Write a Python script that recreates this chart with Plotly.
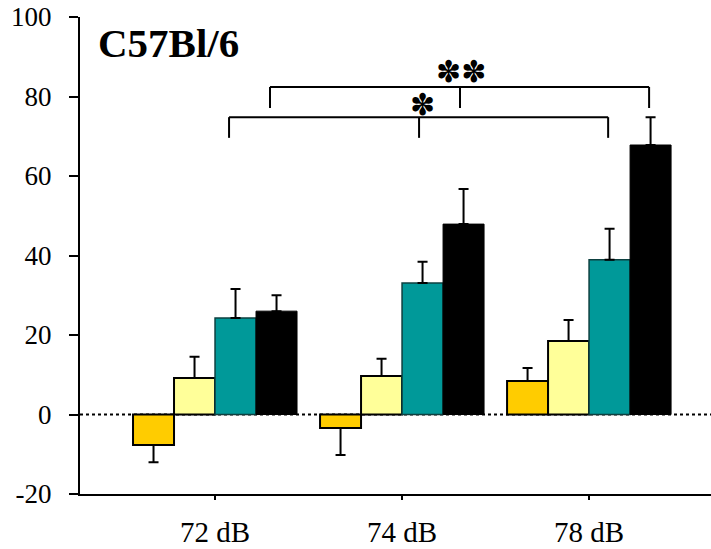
import plotly.graph_objects as go

categories = ["72 dB", "74 dB", "78 dB"]
series_names = ["Group 1", "Group 2", "Group 3", "Group 4"]
values_1 = [-7.7, -3.4, 8.4]
errors_1 = [4.3, 6.8, 3.3]
values_2 = [9.2, 9.7, 18.5]
errors_2 = [5.3, 4.3, 5.3]
values_3 = [24.3, 33.1, 38.9]
errors_3 = [7.3, 5.3, 7.8]
values_4 = [26.0, 47.9, 67.8]
errors_4 = [4.0, 8.8, 7.0]
y_tick_values = [-20, 0, 20, 40, 60, 80, 100]
y_tick_labels = ["-20", "0", "20", "40", "60", "80", "100"]

series = [
    (series_names[0], values_1, errors_1, "#FFCC00", "black", 2),
    (series_names[1], values_2, errors_2, "#FFFF99", "black", 2),
    (series_names[2], values_3, errors_3, "#009999", "#0d4040", 1.5),
    (series_names[3], values_4, errors_4, "#000000", "black", 1),
]

xpos = list(range(len(categories)))
FONT = "Liberation Serif, Times New Roman, serif"

fig = go.Figure()
for name, vals, errs, color, lcolor, lw in series:
    up = [e if v >= 0 else 0 for v, e in zip(vals, errs)]
    down = [e if v < 0 else 0 for v, e in zip(vals, errs)]
    fig.add_trace(go.Bar(
        x=xpos, y=vals, name=name,
        marker=dict(color=color, line=dict(color=lcolor, width=lw)),
        error_y=dict(type="data", symmetric=False, array=up, arrayminus=down,
                     color="black", thickness=2, width=5),
    ))

# zero dotted line
fig.add_shape(type="line", xref="paper", x0=0, x1=1, yref="y", y0=0, y1=0,
              line=dict(color="black", width=2, dash="dot"), layer="below")

# significance brackets
def bracket(xs, ytop, ybot):
    left, mid, right = xs
    fig.add_shape(type="line", x0=left, x1=right, y0=ytop, y1=ytop,
                  line=dict(color="black", width=2))
    for xx in (left, mid, right):
        fig.add_shape(type="line", x0=xx, x1=xx, y0=ytop, y1=ybot,
                      line=dict(color="black", width=2))

bracket((0.075, 1.091, 2.102), 74.8, 69.6)
bracket((0.294, 1.31, 2.321), 82.4, 77.1)

fig.add_annotation(x=1.112, y=77.9, text="\u273D", showarrow=False,
                   font=dict(family="DejaVu Sans", size=30, color="black"))
fig.add_annotation(x=1.316, y=86.2, text="\u273D\u273D", showarrow=False,
                   font=dict(family="DejaVu Sans", size=30, color="black"))

fig.add_annotation(xref="paper", x=(96 - 80) / 631, xanchor="left",
                   y=93.5, yanchor="middle", text="<b>C57Bl/6</b>",
                   showarrow=False,
                   font=dict(family=FONT, size=41, color="black"))

fig.update_layout(
    width=711, height=549,
    margin=dict(l=80, r=0, t=17, b=55),
    plot_bgcolor="white", paper_bgcolor="white",
    barmode="group", bargap=0.123, bargroupgap=0,
    showlegend=False,
    font=dict(family=FONT, color="black"),
)
fig.update_xaxes(
    range=[-0.722, 2.652], tickvals=xpos, ticktext=categories,
    showgrid=False, zeroline=False, automargin=False,
    showline=True, linecolor="black", linewidth=2,
    ticks="outside", ticklen=4, tickwidth=2, tickcolor="black",
    tickfont=dict(family=FONT, size=29, color="black"),
    ticklabelstandoff=7, ticklabeloverflow="allow",
)
fig.update_yaxes(
    range=[-20, 100], tickvals=y_tick_values, ticktext=y_tick_labels,
    showgrid=False, zeroline=False, automargin=False,
    showline=True, linecolor="black", linewidth=2,
    ticks="outside", ticklen=9, tickwidth=2, tickcolor="black",
    tickfont=dict(family=FONT, size=27, color="black"),
    ticklabelstandoff=12, ticklabeloverflow="allow",
)

fig.write_html("out.html",
               config={"displayModeBar": False},
               post_script="document.body.style.margin='0';document.body.style.overflow='hidden';")
